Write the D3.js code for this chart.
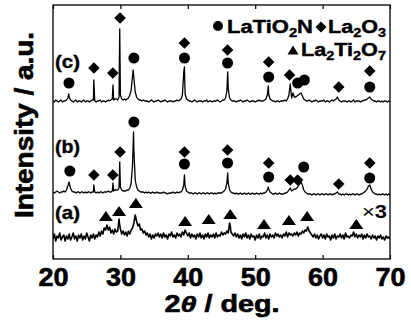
<!DOCTYPE html>
<html>
<head>
<meta charset="utf-8">
<script src="https://cdn.jsdelivr.net/npm/d3@7"></script>
<style>
  body { margin: 0; background: #fff; }
  svg text { font-family: "Liberation Sans", Arial, Helvetica, sans-serif; font-weight: bold; fill: #000; }
  svg text.heavy { stroke: #000; stroke-width: 0.6px; }
</style>
</head>
<body>
<div id="chart"></div>
<script>
// 2θ grid of the sampled profiles (deg.), one value every 0.2°
const twoTheta = d3.range(0, 251).map(i => +(20 + i * 0.2).toFixed(1));

// (c) profile (a.u., baseline ~2)
const profileC = [
    2,1,3,2,1,2,3,1,2,2,
    3,5,6,3,2,1,2,3,1,2,
    2,1,2,3,1,2,2,1,2,3,
    3,2,1,2,2,3,1,2,2,1,
    2,3,2,3,4,3,4,4,3,6,
    8,4,3,4,3,4,5,8,13,27,
    25,11,6,4,3,3,2,3,2,2,
    2,1,2,3,2,1,2,2,3,2,
    1,2,2,3,2,1,2,2,2,1,
    2,2,3,2,3,4,8,31,9,4,
    3,2,2,1,2,3,2,1,2,2,
    2,1,2,2,3,1,2,2,1,2,
    2,2,3,2,1,2,3,3,5,12,
    14,5,3,2,2,2,1,2,2,3,
    2,1,2,2,3,2,1,2,2,2,
    1,2,2,3,2,2,2,3,4,8,
    9,4,3,2,2,1,2,2,1,2,
    2,2,3,2,4,8,19,5,10,6,
    6,7,8,9,10,7,4,3,2,2,
    3,2,1,2,2,3,2,1,2,2,
    2,3,1,2,2,1,2,3,2,3,
    4,6,3,2,1,2,2,2,1,2,
    2,1,2,3,1,2,2,2,1,2,
    2,3,3,4,5,6,4,3,2,2,
    1,2,2,1,2,1,2,2,1,2,
    1
];
// sharp peak tops between grid points [2θ, intensity]
const peaksC = [[22.35, 9], [26.05, 23], [28.9, 18], [29.9, 74], [31.9, 33], [39.5, 36], [45.92, 31], [51.95, 17]];

// (b) profile
const profileB = [
    3,2,3,4,3,2,3,3,4,3,
    5,9,12,7,4,3,3,2,3,3,
    2,3,3,2,3,2,3,3,2,3,
    3,3,2,3,2,3,3,2,3,3,
    3,4,3,3,4,4,5,5,5,7,
    8,5,4,4,4,5,5,7,12,30,
    45,15,8,5,4,3,3,3,2,3,
    2,3,2,2,3,2,2,3,2,2,
    2,2,3,2,2,1,2,2,2,3,
    2,2,3,2,3,3,5,10,9,4,
    3,2,2,2,1,2,2,1,2,2,
    1,2,2,1,2,2,1,2,2,1,
    2,1,2,2,2,2,3,4,6,12,
    12,5,3,2,2,1,2,1,1,2,
    1,1,2,1,1,2,1,1,2,1,
    1,2,1,1,2,1,2,2,3,5,
    6,3,2,1,1,2,1,1,2,1,
    1,1,2,2,3,5,7,4,5,6,
    6,7,9,11,13,10,5,3,2,1,
    1,1,0,1,1,0,1,1,0,1,
    1,0,1,1,0,1,1,0,1,1,
    2,3,1,1,0,1,0,1,1,0,
    1,0,1,1,0,1,1,0,1,1,
    2,3,4,6,9,10,6,3,2,1,
    1,0,1,0,1,1,0,1,0,1,
    0
];
const peaksB = [[22.38, 13], [26.05, 10], [28.9, 12], [29.9, 33], [31.95, 63], [39.5, 20], [45.92, 22], [51.95, 8]];

// (a) profile (x3, noisy)
const profileA = [
    4,9,2,7,5,10,3,6,8,2,
    7,4,9,3,6,10,4,7,2,8,
    5,9,3,7,4,10,6,2,8,5,
    9,4,8,6,11,7,12,9,15,13,
    18,13,16,10,13,9,14,11,12,24,
    14,9,12,8,11,7,12,9,13,15,
    20,28,22,17,19,13,14,10,12,8,
    10,6,9,4,8,5,9,7,10,6,
    9,5,10,6,8,4,9,7,11,6,
    8,5,10,7,9,6,11,8,13,10,
    7,10,5,9,6,8,4,9,6,10,
    5,8,4,9,6,10,5,8,6,9,
    5,10,6,8,7,11,8,10,9,12,
    10,20,11,9,7,10,6,9,5,8,
    4,9,6,10,5,8,4,9,6,7,
    3,8,5,9,4,7,6,10,5,8,
    4,9,6,8,5,10,7,9,6,8,
    5,9,7,11,6,10,8,9,7,10,
    8,11,7,10,9,12,10,13,12,16,
    12,10,8,6,9,5,8,4,7,9,
    5,8,4,9,6,7,3,8,5,9,
    4,7,6,9,5,8,4,10,6,7,
    5,8,7,11,6,9,5,8,6,9,
    4,8,5,9,6,7,4,8,5,7,
    3,7,5,8,4,6,3,7,5,6,
    4
];
const peaksA = [[29.85, 20], [32.3, 25], [46.3, 17], [57.7, 14]];

// vertical offsets of the stacked patterns (a), (b), (c)
const offsets = [16, 64, 156];
const lineWidths = [1.6, 1.3, 1.3];
const patternLabels = ["(a)", "(b)", "(c)"];

// phase markers [2θ, height on the stacked scale]
const circlesC = [[22.37, 176], [32.0, 201], [39.5, 201], [45.9, 196], [52.0, 182], [56.3, 176], [57.3, 179], [67.0, 172]];
const diamondsC = [[26.07, 191], [28.88, 186], [29.95, 241], [39.5, 216], [45.9, 209], [52.0, 197], [55.1, 184], [62.4, 172], [67.0, 188]];
const circlesB = [[22.5, 88], [32.0, 137], [39.5, 95], [45.9, 96], [52.0, 82], [57.2, 92], [67.0, 81]];
const diamondsB = [[26.07, 84], [28.88, 84], [29.95, 107], [39.5, 107], [45.9, 109], [52.0, 96], [55.2, 79], [56.3, 79], [62.4, 75], [67.0, 96]];
const trianglesA = [[27.85, 43], [29.8, 48], [32.3, 56], [39.6, 38], [43.1, 40], [46.3, 45], [51.3, 35], [55.0, 39], [57.7, 43], [65.0, 35]];

const xTicks = [20, 30, 40, 50, 60, 70];

// layout
const width = 411, height = 331;
const margin = { top: 5, right: 21, bottom: 72, left: 53 };
const plotWidth = width - margin.left - margin.right;
const plotHeight = height - margin.top - margin.bottom;

const svg = d3.select("#chart").append("svg").attr("width", width).attr("height", height);
const g = svg.append("g").attr("transform", `translate(${margin.left},${margin.top})`);

const x = d3.scaleLinear().domain([20, 70]).range([0, plotWidth]);
const y = d3.scaleLinear().domain([0, plotHeight]).range([plotHeight, 0]);

g.append("clipPath").attr("id", "plot-clip")
    .append("rect").attr("width", plotWidth).attr("height", plotHeight);

// merge grid samples and peak tops, sorted by angle
function profile(samples, peaks, offset) {
    const pts = samples.map((v, i) => [twoTheta[i], v]).concat(peaks);
    pts.sort((p, q) => p[0] - q[0]);
    return pts.map(p => [p[0], p[1] + offset]);
}

const line = d3.line().x(d => x(d[0])).y(d => y(d[1]));

const curves = [profile(profileA, peaksA, offsets[0]), profile(profileB, peaksB, offsets[1]), profile(profileC, peaksC, offsets[2])];
g.append("g").attr("clip-path", "url(#plot-clip)")
    .selectAll("path")
    .data(curves)
    .enter()
    .append("path")
    .attr("d", line)
    .attr("fill", "none")
    .attr("stroke", "#000")
    .attr("stroke-width", (d, i) => lineWidths[i])
    .attr("stroke-linejoin", "round");

// marker shapes
const diamondPath = "M0,-5.8L5.8,0L0,5.8L-5.8,0Z";
const trianglePath = "M0,-5L7,5L-7,5Z";

function drawCircles(data) {
    g.append("g").selectAll("circle").data(data).enter().append("circle")
        .attr("cx", d => x(d[0])).attr("cy", d => y(d[1])).attr("r", 5.5).attr("fill", "#000");
}
function drawPaths(data, path) {
    g.append("g").selectAll("path").data(data).enter().append("path")
        .attr("d", path)
        .attr("transform", d => `translate(${x(d[0])},${y(d[1])})`)
        .attr("fill", "#000");
}
drawCircles(circlesC);
drawCircles(circlesB);
drawPaths(diamondsC, diamondPath);
drawPaths(diamondsB, diamondPath);
drawPaths(trianglesA, trianglePath);

// axes: inward ticks top and bottom
const xAxis = g.append("g").attr("transform", `translate(0,${plotHeight})`)
    .call(d3.axisBottom(x).tickValues(xTicks).tickSizeInner(-4).tickSizeOuter(0).tickPadding(9));
xAxis.select(".domain").remove();
xAxis.selectAll("line").attr("stroke", "#000").attr("stroke-width", 1.2);
xAxis.selectAll("text")
    .attr("class", "heavy")
    .attr("font-size", 25)
    .attr("font-family", null)
    .attr("textLength", 30)
    .attr("lengthAdjust", "spacingAndGlyphs");

const xTop = g.append("g")
    .call(d3.axisTop(x).tickValues(xTicks).tickSizeInner(-4).tickSizeOuter(0).tickFormat(""));
xTop.select(".domain").remove();
xTop.selectAll("line").attr("stroke", "#000").attr("stroke-width", 1.2);

// frame
g.append("rect")
    .attr("width", plotWidth).attr("height", plotHeight)
    .attr("fill", "none").attr("stroke", "#000").attr("stroke-width", 1.3);

// pattern labels
const labelY = [219, 153, 68];
g.selectAll(".plabel").data(patternLabels).enter().append("text")
    .attr("class", "plabel heavy")
    .attr("x", 2)
    .attr("y", (d, i) => labelY[i] - margin.top)
    .attr("font-size", 19)
    .attr("textLength", 25)
    .attr("lengthAdjust", "spacingAndGlyphs")
    .style("stroke-width", "0.4px")
    .text(d => d);

// ×3
const times = svg.append("text").attr("x", 362).attr("y", 218).attr("font-size", 18)
    .attr("textLength", 25).attr("lengthAdjust", "spacingAndGlyphs");
times.append("tspan").attr("font-weight", "normal").text("×");
times.append("tspan").attr("class", "heavy").style("stroke-width", "0.3px").text("3");

// legend
function chem(sel, parts) {
    parts.forEach(p => {
        if (p.sub) {
            sel.append("tspan").attr("font-size", 12).attr("dy", 4).text(p.t);
        } else {
            sel.append("tspan").attr("dy", p.up ? -4 : 0).text(p.t);
        }
    });
}
const legend = svg.append("g");
legend.append("circle").attr("cx", 218).attr("cy", 26).attr("r", 5).attr("fill", "#000");
const t1 = legend.append("text").attr("class", "heavy").attr("x", 227).attr("y", 33).attr("font-size", 18)
    .attr("textLength", 86).attr("lengthAdjust", "spacingAndGlyphs").style("stroke-width", "0.4px");
chem(t1, [{ t: "LaTiO" }, { t: "2", sub: true }, { t: "N", up: true }]);
legend.append("path").attr("d", "M0,-5.5L5.5,0L0,5.5L-5.5,0Z").attr("transform", "translate(321,27)").attr("fill", "#000");
const t2 = legend.append("text").attr("class", "heavy").attr("x", 328).attr("y", 33).attr("font-size", 18)
    .attr("textLength", 58).attr("lengthAdjust", "spacingAndGlyphs").style("stroke-width", "0.4px");
chem(t2, [{ t: "La" }, { t: "2", sub: true }, { t: "O", up: true }, { t: "3", sub: true }]);
legend.append("path").attr("d", "M0,-4.5L5.5,4.5L-5.5,4.5Z").attr("transform", "translate(293,50)").attr("fill", "#000");
const t3 = legend.append("text").attr("class", "heavy").attr("x", 301).attr("y", 56).attr("font-size", 18)
    .attr("textLength", 85).attr("lengthAdjust", "spacingAndGlyphs").style("stroke-width", "0.4px");
chem(t3, [{ t: "La" }, { t: "2", sub: true }, { t: "Ti", up: true }, { t: "2", sub: true }, { t: "O", up: true }, { t: "7", sub: true }]);

// axis titles
const xTitle = svg.append("text")
    .attr("class", "heavy")
    .attr("x", 222).attr("y", 312)
    .attr("text-anchor", "middle")
    .attr("font-size", 23)
    .attr("textLength", 115)
    .attr("lengthAdjust", "spacingAndGlyphs");
xTitle.append("tspan").text("2");
xTitle.append("tspan").attr("font-style", "italic").text("θ");
xTitle.append("tspan").text(" / deg.");

svg.append("text")
    .attr("class", "heavy")
    .attr("transform", "translate(33,125) rotate(-90)")
    .attr("text-anchor", "middle")
    .attr("font-size", 25)
    .attr("textLength", 186)
    .attr("lengthAdjust", "spacingAndGlyphs")
    .text("Intensity / a.u.");
</script>
</body>
</html>
